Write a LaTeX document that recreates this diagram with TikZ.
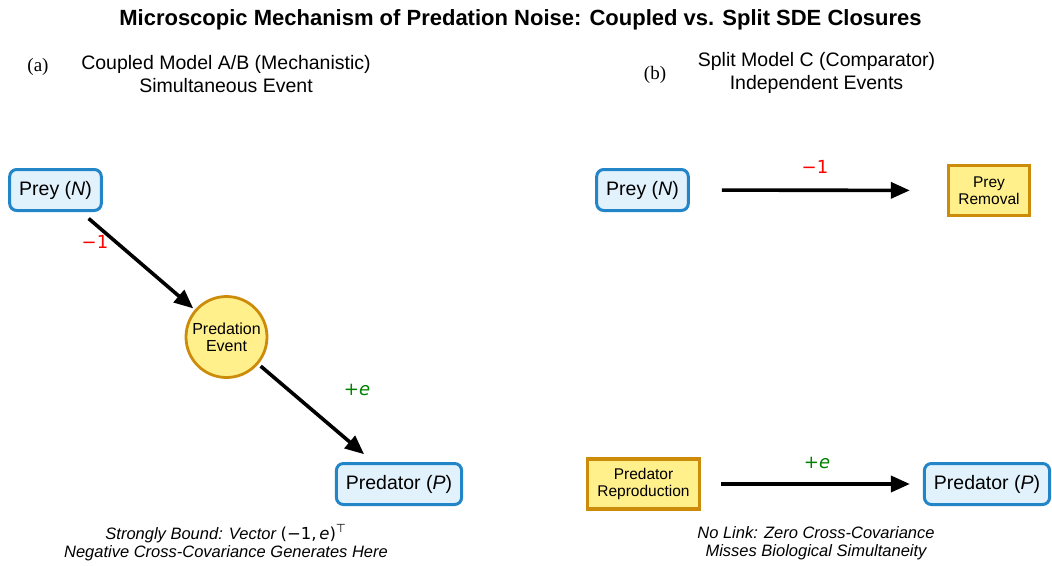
\documentclass[tikz,border=0pt]{standalone}
\usepackage{fontspec}
\setmainfont{Liberation Sans}
\newfontfamily\labserif{Liberation Serif}
\newfontfamily\mathsans{DejaVu Sans}
\usetikzlibrary{arrows.meta}

\definecolor{statedraw}{RGB}{33,133,200}
\definecolor{statefill}{RGB}{225,242,253}
\definecolor{eventfill}{RGB}{255,240,140}
\definecolor{eventdraw}{RGB}{204,140,10}
\definecolor{minusred}{RGB}{255,0,0}
\definecolor{plusgreen}{RGB}{0,128,0}

\tikzset{
  state/.style={draw=statedraw,fill=statefill,line width=3pt,rounded corners=7pt,
    inner xsep=9.5pt,minimum height=41pt,font=\fontsize{19.5}{22}\selectfont},
  event/.style={circle,draw=eventdraw,fill=eventfill,line width=2.8pt,minimum size=81pt,
    inner sep=0pt,align=center,font=\fontsize{16}{17}\selectfont},
  process/.style={draw=eventdraw,fill=eventfill,line width=3.2pt,inner xsep=10pt,
    minimum height=50pt,align=center,font=\fontsize{15.5}{17}\selectfont},
  flow/.style={line width=3.6pt,-{Triangle[length=19pt,width=16pt]}},
  coef/.style={font=\mathsans\fontsize{18}{20}\selectfont},
  subtitle/.style={align=center,font=\fontsize{19.5}{23.5}\selectfont},
  note/.style={align=center,font=\itshape\fontsize{16.5}{18.5}\selectfont}
}

\begin{document}
\begin{tikzpicture}[x=1pt,y=-1pt]
\useasboundingbox (0,0) rectangle (1052,565);
\node[font=\bfseries\fontsize{22}{26}\selectfont] (title) at (520.5,20)
  {Microscopic Mechanism of Predation Noise: Coupled vs. Split SDE Closures};

% (a) coupled model: one event moves both species
\node[font=\labserif\fontsize{19}{22}\selectfont] (tagA) at (38,67) {(a)};
\node[subtitle] (headA) at (226,74) {Coupled Model A/B (Mechanistic)\\Simultaneous Event};
\node[state] (preyA) at (55.5,190) {Prey (\textit{N})};
\node[event] (predation) at (226.5,337) {Predation\\Event};
\node[state] (predA) at (399,484) {Predator (\textit{P})};
\node[coef,text=minusred] (lossA) at (95,242) {−1};
\node[coef,text=plusgreen] (gainA) at (357,390) {+\textit{e}};
\draw[flow,shorten <=10pt,shorten >=2pt] (preyA) -- (predation);
\draw[flow,shorten <=3pt,shorten >=12pt] (predation) -- (predA);
\node[note] (noteA) at (226,543)
  {Strongly Bound: Vector {\mathsans\upshape (−1,\,\textit{e})\textsuperscript{⊤}}\\Negative Cross-Covariance Generates Here};

% (b) split model: two independent events
\node[font=\labserif\fontsize{19}{22}\selectfont] (tagB) at (655,75) {(b)};
\node[subtitle] (headB) at (816.5,73) {Split Model C (Comparator)\\Independent Events};
\node[state] (preyB) at (642.5,190) {Prey (\textit{N})};
\node[process] (removal) at (989,190.5) {Prey\\Removal};
\node[process] (repro) at (643.5,484) {Predator\\Reproduction};
\node[state] (predB) at (987,484) {Predator (\textit{P})};
\node[coef,text=minusred] (lossB) at (815,167) {−1};
\node[coef,text=plusgreen] (gainB) at (817,463) {+\textit{e}};
\draw[flow,shorten <=32pt,shorten >=37pt] (preyB) -- (removal);
\draw[flow,shorten <=20pt,shorten >=13pt] (repro) -- (predB);
\node[note] (noteB) at (816,543)
  {No Link: Zero Cross-Covariance\\Misses Biological Simultaneity};
\end{tikzpicture}
\end{document}
